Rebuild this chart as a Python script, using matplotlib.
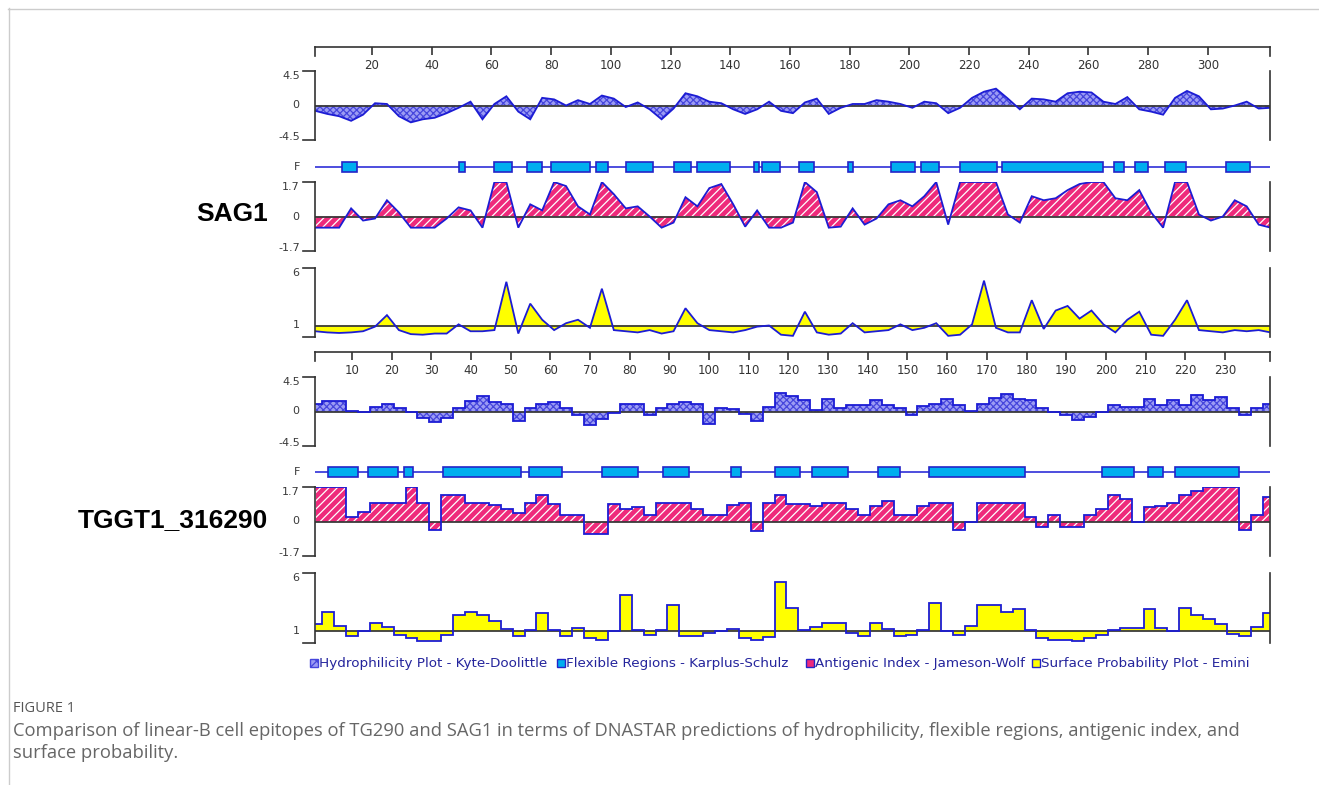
import numpy as np
import matplotlib
matplotlib.use("Agg")
import matplotlib.pyplot as plt
from matplotlib.lines import Line2D
from matplotlib.patches import Rectangle

# ---------------------------------------------------------------- data
sag1_residues = np.arange(1, 322, 4)
sag1_hydrophilicity = [
    -0.7, -1.1, -1.4, -2.0, -1.2, 0.3, 0.2, -1.4, -2.2, -1.8,
    -1.6, -1.0, -0.3, 0.5, -1.8, 0.2, 1.2, -0.8, -1.8, 1.0,
    0.8, 0.0, 0.7, 0.2, 1.3, 0.9, -0.2, 0.4, -0.5, -1.8,
    -0.4, 1.6, 1.2, 0.5, 0.3, -0.5, -1.1, -0.5, 0.5, -0.7,
    -1.0, 0.4, 0.9, -1.1, -0.3, 0.2, 0.2, 0.7, 0.5, 0.2,
    -0.3, 0.5, 0.3, -1.0, -0.3, 1.0, 1.8, 2.2, 0.9, -0.5,
    0.9, 0.8, 0.5, 1.6, 1.8, 1.7, 0.5, 0.2, 1.1, -0.5,
    -0.8, -1.2, 1.0, 1.9, 1.2, -0.5, -0.4, 0.0, 0.5, -0.4,
    -0.3]
sag1_antigenic = [
    -0.55, -0.55, -0.55, 0.4, -0.2, -0.1, 0.8, 0.2, -0.55, -0.55,
    -0.55, -0.1, 0.45, 0.3, -0.55, 1.7, 1.7, -0.55, 0.6, 0.3,
    1.7, 1.5, 0.5, 0.1, 1.7, 1.1, 0.4, 0.5, 0.0, -0.55,
    -0.3, 0.95, 0.5, 1.4, 1.6, 0.6, -0.5, 0.3, -0.55, -0.55,
    -0.3, 1.7, 1.2, -0.55, -0.5, 0.4, -0.4, -0.1, 0.6, 0.8,
    0.5, 1.0, 1.7, -0.4, 1.7, 1.7, 1.7, 1.7, 0.1, -0.3,
    1.0, 0.8, 0.9, 1.3, 1.6, 1.7, 1.7, 0.9, 0.8, 1.3,
    0.2, -0.55, 1.7, 1.7, 0.1, -0.2, 0.0, 0.8, 0.5, -0.4,
    -0.55]
sag1_surface = [
    0.5, 0.4, 0.35, 0.4, 0.5, 0.9, 1.9, 0.6, 0.25, 0.2,
    0.3, 0.3, 1.1, 0.5, 0.5, 0.6, 4.8, 0.3, 2.9, 1.5,
    0.6, 1.2, 1.5, 0.8, 4.2, 0.6, 0.5, 0.4, 0.6, 0.3,
    0.5, 2.5, 1.2, 0.6, 0.5, 0.4, 0.6, 0.9, 1.0, 0.2,
    0.1, 2.2, 0.4, 0.2, 0.3, 1.2, 0.4, 0.5, 0.6, 1.1,
    0.6, 0.8, 1.2, 0.1, 0.2, 1.1, 4.9, 0.8, 0.4, 0.4,
    3.2, 0.7, 2.3, 2.7, 1.6, 2.3, 1.1, 0.4, 1.5, 2.2,
    0.2, 0.1, 1.5, 3.2, 0.6, 0.5, 0.4, 0.6, 0.5, 0.6,
    0.4]
sag1_flex_start = [10, 49, 61, 72, 80, 95, 105, 121, 129, 148, 150.5,
                   163, 179.5, 194, 204, 217, 231, 268.5, 275.5, 285.5, 306]
sag1_flex_end = [15, 51, 67, 77, 93, 99, 114, 127, 140, 149.5, 156.5,
                 168, 181, 202, 210, 229.5, 265, 272, 280, 292.5, 314]
sag1_ticks = [20, 40, 60, 80, 100, 120, 140, 160, 180, 200, 220, 240, 260, 280, 300]

tggt1_residues = np.arange(1, 242, 3)
tggt1_hydrophilicity = [
    1.0, 1.4, 1.4, 0.1, 0.0, 0.6, 1.0, 0.4, 0.0, -0.8,
    -1.4, -0.9, 0.5, 1.4, 2.0, 1.2, 1.0, -1.2, 0.5, 1.0,
    1.2, 0.4, -0.4, -1.8, -1.0, -0.2, 1.0, 1.0, -0.5, 0.5,
    1.0, 1.2, 1.0, -1.6, 0.5, 0.3, -0.3, -1.3, 0.6, 2.4,
    2.0, 1.5, 0.2, 1.6, 0.4, 0.9, 0.9, 1.5, 0.9, 0.5,
    -0.5, 0.7, 1.0, 1.6, 0.8, 0.1, 1.0, 1.8, 2.3, 1.6,
    1.5, 0.4, 0.0, -0.5, -1.1, -0.7, 0.0, 0.9, 0.6, 0.6,
    1.6, 0.9, 1.5, 0.9, 2.1, 1.5, 1.9, 0.5, -0.4, 0.4,
    1.0]
tggt1_antigenic = [
    1.7, 1.7, 1.7, 0.2, 0.45, 0.9, 0.9, 0.9, 1.7, 0.9,
    -0.4, 1.3, 1.3, 0.9, 0.9, 0.8, 0.6, 0.4, 0.9, 1.3,
    0.85, 0.3, 0.3, -0.6, -0.6, 0.85, 0.6, 0.7, 0.3, 0.9,
    0.9, 0.9, 0.6, 0.3, 0.3, 0.8, 0.9, -0.45, 0.9, 1.3,
    0.85, 0.85, 0.75, 0.9, 0.9, 0.6, 0.3, 0.75, 1.0, 0.3,
    0.3, 0.75, 0.9, 0.9, -0.4, 0.0, 0.9, 0.9, 0.9, 0.9,
    0.2, -0.25, 0.3, -0.25, -0.25, 0.3, 0.6, 1.3, 1.1, 0.0,
    0.7, 0.75, 0.9, 1.3, 1.5, 1.7, 1.7, 1.7, -0.4, 0.3,
    1.2]
tggt1_surface = [
    1.6, 2.7, 1.5, 0.6, 1.0, 1.7, 1.4, 0.7, 0.4, 0.15,
    0.2, 0.7, 2.4, 2.7, 2.4, 1.9, 1.2, 0.6, 1.1, 2.6,
    1.1, 0.6, 1.3, 0.45, 0.3, 1.0, 4.1, 1.1, 0.7, 1.1,
    3.3, 0.6, 0.6, 0.9, 1.0, 1.2, 0.4, 0.3, 0.5, 5.2,
    3.0, 1.1, 1.4, 1.7, 1.7, 0.9, 0.6, 1.7, 1.2, 0.6,
    0.7, 1.1, 3.4, 1.0, 0.7, 1.5, 3.3, 3.3, 2.7, 2.9,
    1.1, 0.4, 0.3, 0.3, 0.2, 0.4, 0.7, 1.1, 1.3, 1.3,
    2.9, 1.3, 1.0, 3.0, 2.4, 2.1, 1.6, 0.8, 0.6, 1.4,
    2.6]
tggt1_flex_start = [4, 14, 23, 33, 54.5, 73, 88.5, 105.5, 116.5, 126,
                    142.5, 155.5, 199, 210.5, 217.5]
tggt1_flex_end = [11.5, 21.5, 25.5, 52.5, 63, 82, 95, 108, 123, 135,
                  148, 179.5, 207, 214.5, 233.5]
tggt1_ticks = [10, 20, 30, 40, 50, 60, 70, 80, 90, 100, 110, 120,
               130, 140, 150, 160, 170, 180, 190, 200, 210, 220, 230]

legend_labels = ["Hydrophilicity Plot - Kyte-Doolittle",
                 "Flexible Regions - Karplus-Schulz",
                 "Antigenic Index - Jameson-Wolf",
                 "Surface Probability Plot - Emini"]

caption_title = "FIGURE 1"
caption_lines = ["Comparison of linear-B cell epitopes of TG290 and SAG1 in terms of DNASTAR "
                 "predictions of hydrophilicity, flexible regions, antigenic index, and",
                 "surface probability."]

# ---------------------------------------------------------------- style
W, H = 1319, 785
plt.rcParams['font.family'] = 'DejaVu Sans'
plt.rcParams['hatch.linewidth'] = 0.9

AXIS = '#333333'
OUTLINE = '#1c1cd4'
HYD_FACE = '#9c9cf4'
HYD_HATCH = '#4646dc'
ANT_FACE = '#ee2a7b'
SURF_FACE = '#ffff00'
FLEX_FACE = '#00aeef'
FLEX_EDGE = '#2424c8'
LABEL_C = '#3a3a3a'

fig = plt.figure(figsize=(W / 100, H / 100), dpi=100)
fig.patch.set_facecolor('white')


def pax(x0, y0, x1, y1):
    return fig.add_axes([x0 / W, 1 - y1 / H, (x1 - x0) / W, (y1 - y0) / H])


def hline_px(x0, x1, y, **kw):
    fig.add_artist(Line2D([x0 / W, x1 / W], [1 - y / H, 1 - y / H], **kw))


def vline_px(x, y0, y1, **kw):
    fig.add_artist(Line2D([x / W, x / W], [1 - y0 / H, 1 - y1 / H], **kw))


# outer frame of the journal figure
hline_px(8, W, 8.5, color='#cccccc', lw=1.0)
vline_px(8.5, 8, H, color='#cccccc', lw=1.0)

XL, XR = 315, 1270


def panel(y0, y1, xlim, ylim, labels):
    ax = pax(XL, y0, XR, y1)
    ax.set_xlim(*xlim)
    ax.set_ylim(*ylim)
    ax.patch.set_alpha(0)
    for s in ('top', 'bottom'):
        ax.spines[s].set_visible(False)
    for s in ('left', 'right'):
        ax.spines[s].set_color(AXIS)
        ax.spines[s].set_linewidth(1.2)
    ax.set_xticks([])
    ax.set_yticks([])
    for yy in (y0, y1):
        hline_px(XL - 12, XL, yy, color=AXIS, lw=1.2)
    for val, txt, va in labels:
        ax.annotate(txt, xy=(0, val), xycoords=('axes fraction', 'data'),
                    xytext=(-11, 0), textcoords='offset points',
                    ha='right', va=va, fontsize=8, color=LABEL_C)
    return ax


def profile(ax, x, y, base, face, hatch=None, hatch_color=None, step=False):
    kw = dict(step='mid') if step else {}
    ds = 'steps-mid' if step else 'default'
    ax.fill_between(x, y, base, facecolor=face, edgecolor='none', lw=0, **kw)
    if hatch:
        ax.fill_between(x, y, base, facecolor='none', edgecolor=hatch_color,
                        hatch=hatch, lw=0, **kw)
    ax.axhline(base, color='#3a3a3a', lw=1.3)
    ax.plot(x, y, color=OUTLINE, lw=1.3, drawstyle=ds, solid_joinstyle='miter')


def ruler(y, xlim, ticks):
    ax = pax(XL, y, XR, y + 9)
    ax.set_xlim(*xlim)
    ax.set_ylim(0, 1)
    ax.patch.set_alpha(0)
    ax.spines['bottom'].set_visible(False)
    for s in ('top', 'left', 'right'):
        ax.spines[s].set_color(AXIS)
        ax.spines[s].set_linewidth(1.2)
    ax.set_yticks([])
    ax.set_xticks(ticks)
    ax.set_xticklabels([str(t) for t in ticks])
    ax.tick_params(axis='x', top=True, bottom=False, direction='in', length=6,
                   width=1.2, color=AXIS, labelbottom=True, labeltop=False,
                   pad=2, labelsize=8.5, labelcolor='#333333')


def flex_row(y, xlim, starts, ends):
    ax = pax(XL, y - 8, XR, y + 8)
    ax.set_xlim(*xlim)
    ax.set_ylim(-1, 1)
    ax.axis('off')
    ax.axhline(0, color=OUTLINE, lw=1.1)
    for s, e in zip(starts, ends):
        ax.add_patch(Rectangle((s, -0.62), e - s, 1.24, facecolor=FLEX_FACE,
                               edgecolor=FLEX_EDGE, lw=1.2, zorder=3))
    fig.text(300 / W, 1 - y / H, 'F', ha='right', va='center', fontsize=8,
             color=LABEL_C)


blocks = [
    dict(res=sag1_residues, hyd=sag1_hydrophilicity, ant=sag1_antigenic,
         sur=sag1_surface, fs=sag1_flex_start, fe=sag1_flex_end,
         ticks=sag1_ticks, xlim=(0.9, 320.8), ry=47, hy=(71, 140), fy=167,
         ay=(182, 251), sy=(268, 337), step=False, name='SAG1', ny=214),
    dict(res=tggt1_residues, hyd=tggt1_hydrophilicity, ant=tggt1_antigenic,
         sur=tggt1_surface, fs=tggt1_flex_start, fe=tggt1_flex_end,
         ticks=tggt1_ticks, xlim=(0.68, 241.36), ry=352, hy=(377, 446), fy=472,
         ay=(487, 556), sy=(573, 643), step=True, name='TGGT1_316290', ny=520),
]

for b in blocks:
    ruler(b['ry'], b['xlim'], b['ticks'])

    ax = panel(*b['hy'], b['xlim'], (-4.5, 4.5),
               [(4.5, '4.5', 'top'), (0, '0', 'center'), (-4.5, '-4.5', 'baseline')])
    profile(ax, b['res'], b['hyd'], 0, HYD_FACE, 'xxxxx', HYD_HATCH, b['step'])

    flex_row(b['fy'], b['xlim'], b['fs'], b['fe'])

    ax = panel(*b['ay'], b['xlim'], (-1.7, 1.7),
               [(1.7, '1.7', 'top'), (0, '0', 'center'), (-1.7, '-1.7', 'baseline')])
    profile(ax, b['res'], b['ant'], 0, ANT_FACE, '////', 'white', b['step'])

    ax = panel(*b['sy'], b['xlim'], (0, 6),
               [(6, '6', 'top'), (1, '1', 'center')])
    profile(ax, b['res'], b['sur'], 1, SURF_FACE, None, None, b['step'])

    fig.text(268 / W, 1 - b['ny'] / H, b['name'], ha='right', va='center',
             fontsize=19, fontweight='bold', color='black',
             family='Liberation Sans')

# ---------------------------------------------------------------- legend
LEG_Y = 663
leg_x = [310, 557, 806, 1032]
icon_styles = [
    dict(facecolor=HYD_FACE, edgecolor=HYD_HATCH, hatch='xxx'),
    dict(facecolor=FLEX_FACE, edgecolor=FLEX_EDGE),
    dict(facecolor=ANT_FACE, edgecolor=FLEX_EDGE),
    dict(facecolor=SURF_FACE, edgecolor=FLEX_EDGE),
]
for x, lab, st in zip(leg_x, legend_labels, icon_styles):
    fig.add_artist(Rectangle((x / W, 1 - (LEG_Y + 4) / H), 8 / W, 8 / H,
                             transform=fig.transFigure, lw=1.0, **st))
    fig.text((x + 9) / W, 1 - LEG_Y / H, lab, ha='left', va='center',
             fontsize=9.7, color='#24249c')

# ---------------------------------------------------------------- caption
fig.text(13 / W, 1 - 709 / H, caption_title, ha='left', va='center',
         fontsize=10.5, color='#555555', family='Open Sans')
for i, line in enumerate(caption_lines):
    fig.text(13 / W, 1 - (731 + 22 * i) / H, line, ha='left', va='center',
             fontsize=13.2, color='#666666', family='Open Sans')

fig.savefig('out.png', dpi=100, facecolor='white')
